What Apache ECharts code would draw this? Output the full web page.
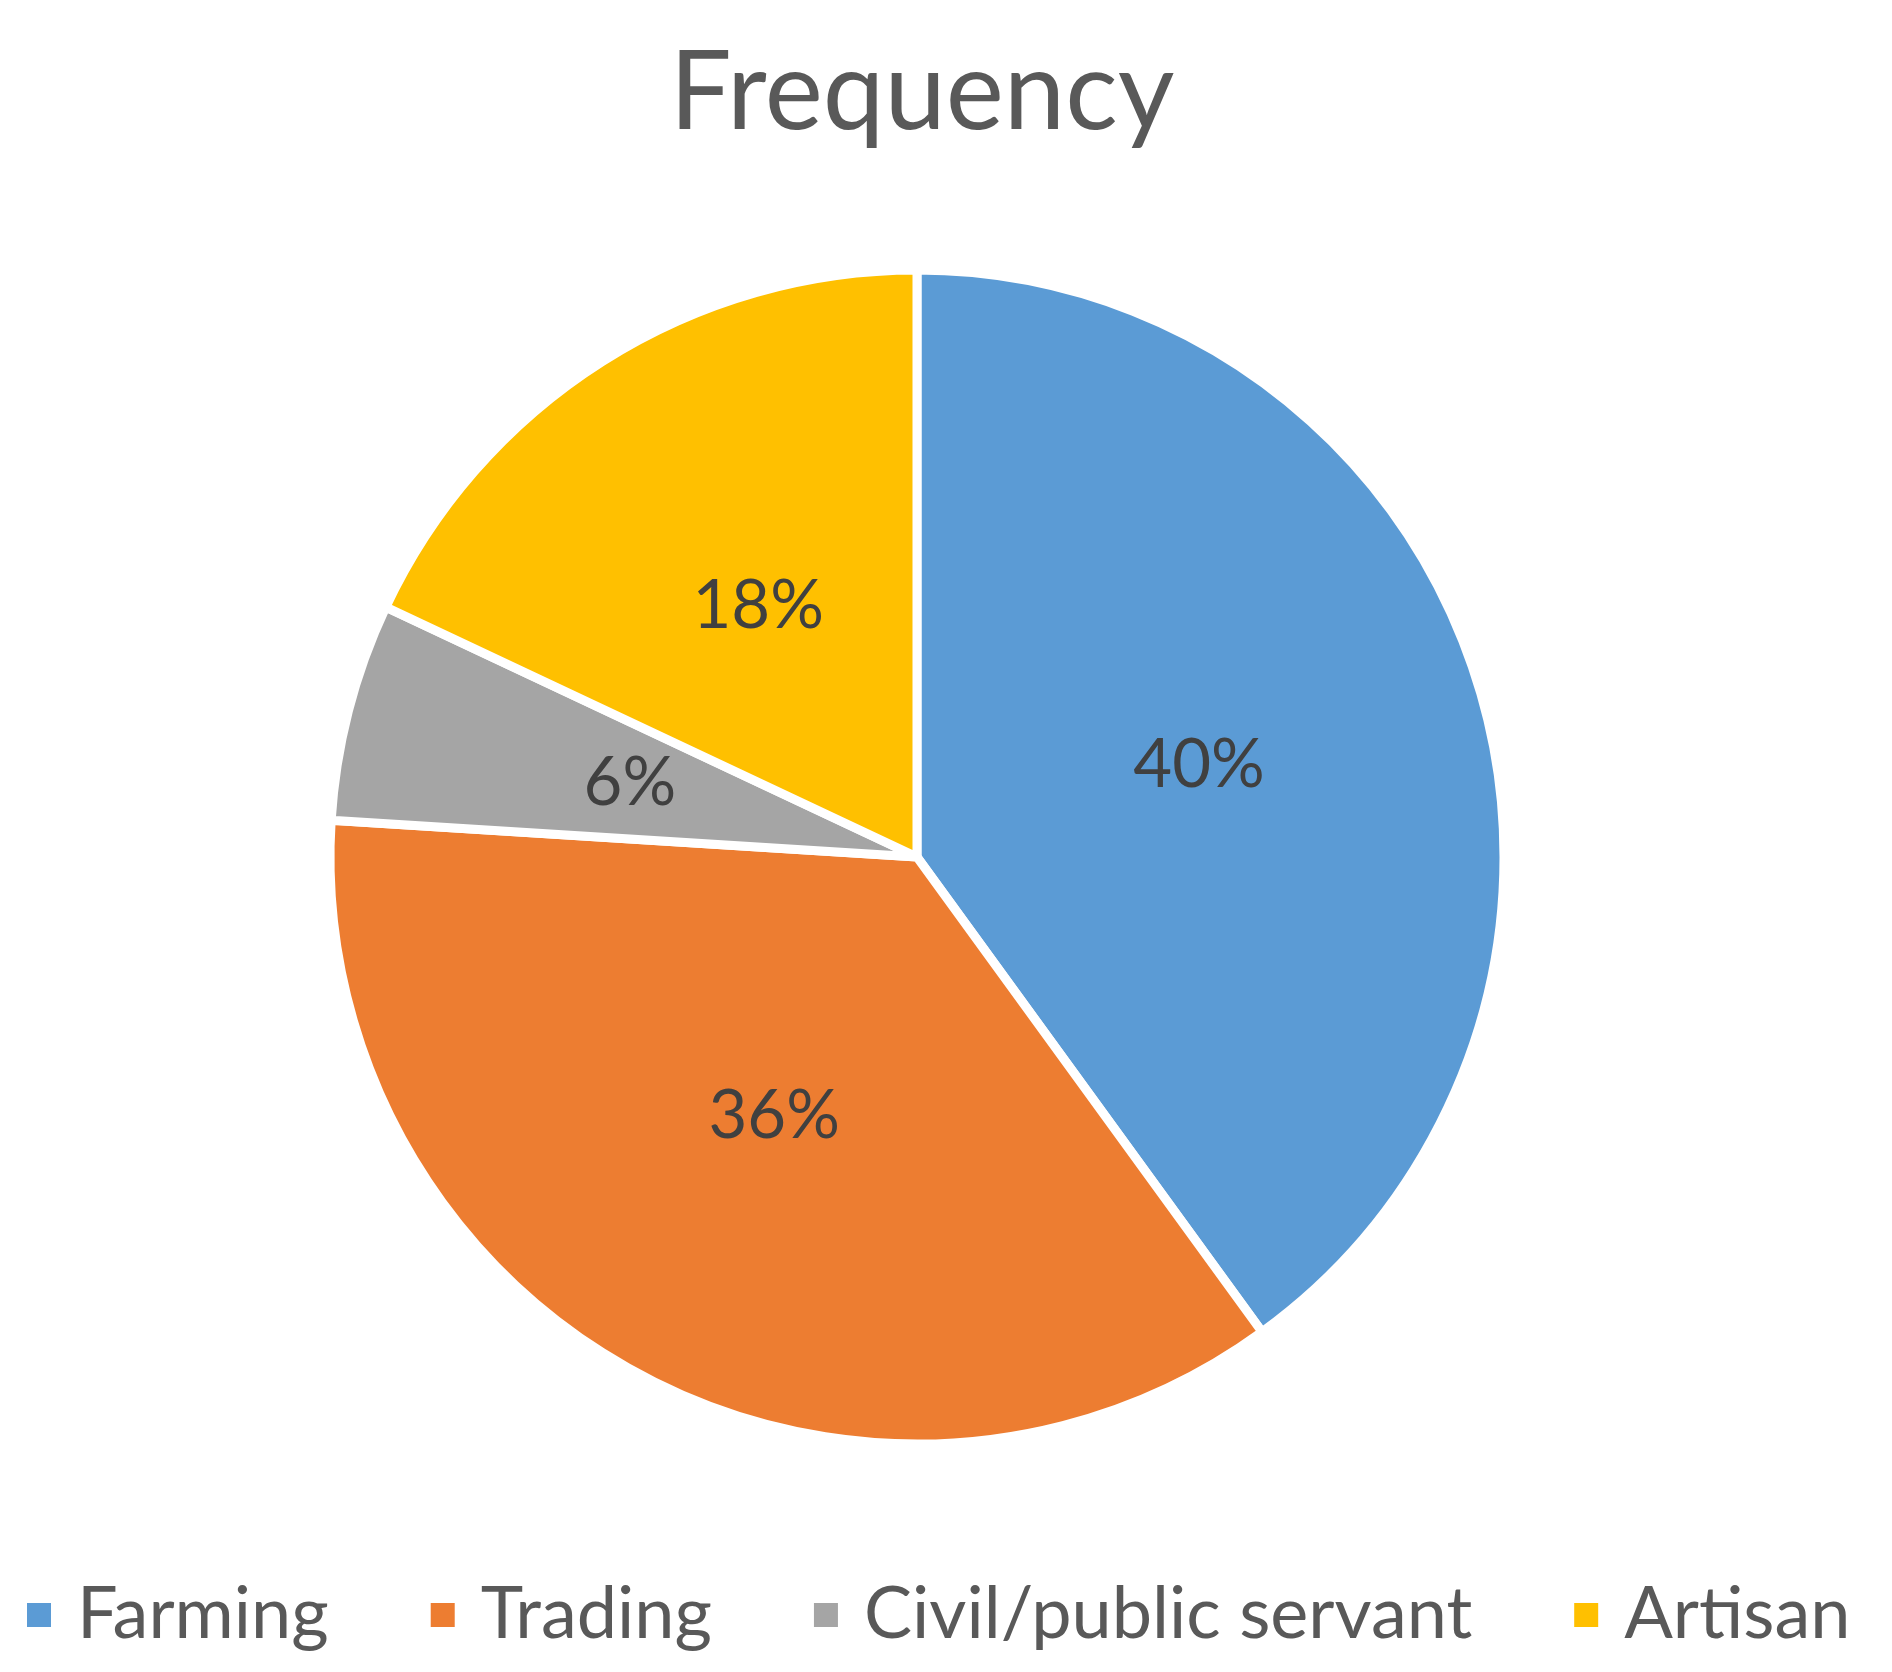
<!DOCTYPE html>
<html>
<head>
<meta charset="utf-8">
<script src="https://cdn.jsdelivr.net/npm/echarts@6/dist/echarts.min.js"></script>
<style>html,body{margin:0;padding:0;background:#fff}#c{width:1892px;height:1672px}</style>
</head>
<body>
<div id="c"></div>
<script>
const categories = ['Farming', 'Trading', 'Civil/public servant', 'Artisan'];
const values = [40, 36, 6, 18];
const colors = ['#5B9BD5', '#ED7D31', '#A5A5A5', '#FFC000'];
const titleText = 'Frequency';

const chart = echarts.init(document.getElementById('c'), null, {renderer: 'canvas'});
chart.setOption({
  backgroundColor: '#ffffff',
  animation: false,
  color: colors,
  title: {
    text: titleText,
    left: 917,
    textAlign: 'center',
    top: 34,
    textStyle: {fontFamily: 'Lato', fontWeight: 'normal', fontSize: 110, color: '#595959'}
  },
  legend: {
    data: categories,
    left: 20,
    top: 1574,
    icon: 'rect',
    itemWidth: 26,
    itemHeight: 26,
    itemGap: 100,
    textStyle: {fontFamily: 'Lato', fontSize: 72, color: '#595959', padding: [0, 0, 0, 20]}
  },
  series: [{
    type: 'pie',
    center: [917, 857],
    radius: 587,
    startAngle: 90,
    clockwise: true,
    data: categories.map((n, i) => ({name: n, value: values[i]})),
    itemStyle: {borderColor: '#ffffff', borderWidth: 9},
    label: {
      show: true,
      position: 'inside',
      formatter: p => Math.round(p.percent) + '%',
      fontFamily: 'Lato',
      fontSize: 67,
      color: '#404040'
    },
    labelLine: {show: false},
    emphasis: {disabled: true}
  }]
});
</script>
</body>
</html>
